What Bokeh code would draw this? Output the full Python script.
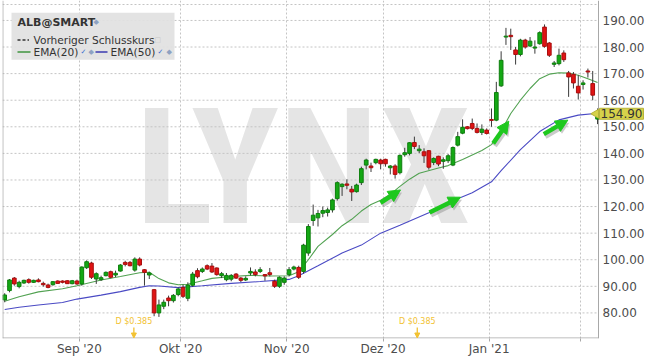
import math
from bokeh.plotting import figure
from bokeh.models import (ColumnDataSource, Range1d, FixedTicker, Label, Arrow,
                          NormalHead, Span, BoxAnnotation)
from bokeh.core.properties import value
from bokeh.embed import file_html
from bokeh.resources import INLINE

# ---------------- data ----------------
opens = [84.9, 88.4, 93.1, 89.9, 91.25, 92.5, 91.5, 92.4, 91.1, 90.5,
         90.6, 92.0, 92.0, 92.1, 91.0, 92.0, 90.9, 97.0, 98.75, 92.75,
         92.5, 94.0, 95.5, 94.25, 95.75, 99.0, 99.0, 96.1, 100.25, 96.25,
         94.25, 88.75, 80.0, 82.5, 85.6, 84.6, 86.9, 89.6, 85.5, 90.4,
         95.9, 95.6, 97.75, 97.6, 96.9, 94.0, 92.5, 92.7, 94.6, 93.1,
         92.4, 95.0, 95.4, 95.6, 94.4, 95.1, 91.9, 90.0, 91.5, 94.4,
         96.5, 97.1, 95.6, 102.5, 114.75, 115.75, 117.5, 117.75, 118.75, 123.0,
         127.5, 128.5, 126.5, 125.6, 129.0, 135.6, 135.25, 136.5, 137.5, 137.75,
         134.6, 135.25, 132.75, 139.5, 140.0, 144.1, 141.0, 140.6, 141.0, 136.6,
         138.9, 137.0, 137.25, 135.6, 143.1, 147.6, 150.0, 151.25, 149.4, 147.9,
         148.75, 152.75, 152.5, 165.4, 183.75, 184.4, 178.9, 177.2, 182.6, 180.4,
         179.6, 181.25, 187.5, 181.5, 173.5, 173.75, 177.75, 170.25, 169.75, 165.25,
         165.9, 171.0, 166.25, 152.9]
highs = [87.4, 92.75, 93.5, 92.1, 92.5, 93.0, 92.5, 93.0, 91.75, 91.0,
         92.0, 92.25, 92.25, 92.25, 92.4, 92.5, 97.5, 99.75, 99.25, 95.25,
         94.0, 95.6, 95.9, 95.9, 98.4, 99.6, 99.5, 100.9, 100.9, 96.5,
         95.5, 89.0, 85.0, 85.0, 86.5, 87.1, 89.6, 90.6, 91.5, 95.4,
         96.8, 97.1, 98.25, 98.75, 97.1, 95.4, 95.0, 94.6, 95.0, 93.5,
         93.75, 97.1, 96.4, 97.2, 94.6, 96.9, 92.5, 93.75, 93.75, 97.25,
         97.75, 97.75, 106.0, 113.4, 120.75, 118.75, 120.0, 119.6, 123.0, 129.5,
         128.75, 130.25, 127.75, 128.6, 135.0, 138.0, 136.5, 138.0, 138.0, 138.0,
         135.6, 135.9, 139.6, 142.1, 144.25, 146.3, 143.1, 141.9, 141.25, 138.5,
         139.1, 138.5, 139.75, 142.6, 148.1, 152.8, 150.3, 153.1, 151.25, 150.9,
         149.4, 156.9, 166.9, 178.4, 187.2, 186.9, 180.0, 183.1, 183.1, 183.75,
         182.5, 185.9, 188.5, 181.9, 174.75, 179.4, 178.75, 171.0, 170.6, 169.4,
         167.5, 171.9, 171.0, 156.9]
lows = [84.0, 87.75, 90.25, 89.25, 90.9, 91.0, 91.25, 91.5, 89.9, 89.25,
        90.25, 91.0, 91.1, 90.9, 90.75, 90.5, 90.25, 96.5, 92.75, 90.9,
        92.0, 93.75, 93.0, 93.5, 95.5, 97.5, 97.5, 95.5, 97.5, 90.25,
        92.75, 78.75, 78.5, 81.4, 82.5, 83.9, 86.25, 85.6, 84.4, 89.8,
        93.0, 95.0, 96.1, 95.0, 94.0, 93.1, 91.9, 91.9, 92.75, 91.6,
        92.0, 94.1, 93.75, 95.0, 92.1, 93.75, 89.4, 89.4, 90.6, 93.75,
        96.0, 92.75, 94.75, 101.5, 112.75, 112.5, 116.0, 116.25, 117.75, 122.25,
        124.0, 126.5, 122.1, 125.25, 128.1, 134.0, 133.0, 135.9, 134.0, 135.0,
        132.1, 130.5, 132.1, 138.75, 139.25, 141.6, 140.1, 136.4, 133.9, 135.6,
        135.2, 134.2, 136.4, 135.2, 142.6, 147.2, 149.0, 148.75, 147.5, 146.9,
        147.1, 150.0, 152.1, 165.0, 180.8, 178.9, 173.4, 176.5, 179.4, 180.0,
        177.5, 180.9, 179.75, 176.25, 172.5, 173.1, 174.4, 161.25, 164.4, 160.25,
        164.0, 168.5, 160.0, 151.0]
closes = [86.75, 92.4, 90.9, 91.5, 92.25, 91.5, 92.25, 91.75, 90.6, 89.6,
          91.75, 91.1, 91.5, 91.0, 92.1, 90.9, 97.25, 99.25, 93.4, 94.75,
          93.25, 95.25, 93.4, 94.9, 98.0, 98.25, 97.75, 100.25, 98.0, 95.25,
          95.0, 80.0, 83.0, 84.0, 84.6, 86.6, 89.0, 86.25, 90.5, 94.6,
          93.6, 96.5, 96.5, 95.4, 94.4, 94.75, 94.1, 94.1, 93.1, 92.25,
          93.0, 95.6, 94.4, 96.25, 93.9, 94.4, 90.0, 93.4, 93.1, 96.25,
          97.25, 93.4, 105.5, 112.5, 116.75, 117.4, 118.5, 118.75, 122.5, 129.0,
          128.4, 128.0, 125.5, 128.1, 134.25, 137.5, 134.6, 137.75, 136.1, 136.1,
          135.25, 132.1, 139.25, 140.25, 144.0, 142.6, 141.6, 139.1, 134.8, 138.1,
          136.0, 137.6, 139.1, 142.2, 146.3, 149.8, 149.3, 149.4, 147.9, 149.1,
          147.5, 152.4, 162.9, 175.0, 184.1, 183.9, 177.2, 182.6, 180.0, 182.2,
          180.0, 185.4, 180.25, 176.9, 174.0, 176.9, 175.25, 168.75, 166.5, 162.75,
          166.5, 170.6, 161.9, 154.9]

ema20_day = [0, 3, 7, 12, 15, 20, 24, 28, 30, 32, 34, 36, 38, 41, 43, 47, 51,
             55, 59, 61, 63, 65, 68, 70, 72, 74, 76, 78, 80, 82, 84, 86, 90,
             92, 95, 99, 101, 103, 105, 107, 109, 111, 113, 115, 117, 119, 121, 123]
ema20_val = [84.4, 86.1, 87.9, 89.1, 90.2, 92.4, 93.7, 95.1, 95.3, 92.9, 91.3,
             90.6, 90.8, 92.1, 93.0, 93.7, 94.1, 93.9, 94.0, 95.5, 100.0, 105.0,
             109.5, 112.8, 115.2, 118.3, 120.8, 122.4, 124.6, 127.6, 130.3, 132.5,
             134.5, 135.4, 137.7, 141.1, 143.3, 148.3, 155.0, 160.0, 164.4, 168.1,
             169.8, 170.3, 170.2, 169.4, 168.1, 166.7]
ema50_day = [0, 3, 7, 12, 15, 20, 24, 28, 30, 32, 36, 41, 47, 53, 59, 61, 65,
             70, 74, 78, 82, 88, 92, 97, 101, 103, 107, 111, 115, 119, 123]
ema50_val = [81.3, 82.1, 83.0, 83.9, 85.2, 86.7, 88.0, 89.6, 90.2, 90.1, 89.5,
             90.2, 91.1, 91.8, 92.6, 94.0, 97.7, 102.5, 105.5, 110.0, 113.0,
             117.7, 121.4, 125.2, 129.3, 133.5, 141.4, 148.2, 152.6, 154.4, 155.1]

month_labels = ["Sep '20", "Okt '20", "Nov '20", "Dez '20", "Jan '21", ""]
month_first_day = [16, 37, 59, 79, 101, 120]
price_ticks = [80, 90, 100, 110, 120, 130, 140, 150, 160, 170, 180, 190]
dividend_day = [26.8, 85.6]
dividend_text = ["D $0.385", "D $0.385"]
last_price = closes[-1]

# ---------------- geometry helpers (for annotations) ----------------
PXU = 596 / 123.656          # pixels per trading day
X0 = -0.456                  # left edge of the frame (px 2)
XA = 123.2                   # price axis position (px 598)
X1 = X0 + 643 / PXU          # right edge of canvas (px 645)
Y0, Y1 = 70.375, 197.5       # frame bottom (px 339) / top (px 0)
FB = 339


def dx(px):
    return X0 + (px - 2) / PXU


def dy(py):
    return Y1 - py * (Y1 - Y0) / FB


days = list(range(len(closes)))
up = [c >= o for o, c in zip(opens, closes)]
src = ColumnDataSource(dict(
    x=days, high=highs, low=lows,
    top=[max(o, c) for o, c in zip(opens, closes)],
    bottom=[min(o, c) for o, c in zip(opens, closes)],
    fill=["#14a814" if u else "#e01414" for u in up],
    edge=["#0e7f0e" if u else "#a80e0e" for u in up],
))

p = figure(width=645, height=358, x_range=Range1d(X0, X1), y_range=Range1d(Y0, Y1),
           y_axis_location=None, toolbar_location=None, output_backend="svg",
           min_border_left=2, min_border_right=0, min_border_top=0, min_border_bottom=19,
           background_fill_color="white", border_fill_color="white",
           outline_line_color=None)

# x axis (month boundaries)
grid_pos = [d - 0.5 for d in month_first_day]
p.xaxis.ticker = FixedTicker(ticks=grid_pos)
p.xaxis.major_label_overrides = {g: lab for g, lab in zip(grid_pos, month_labels)}
p.xaxis.major_label_text_font = "DejaVu Sans"
p.xaxis.major_label_text_font_size = "12px"
p.xaxis.major_label_text_color = "#4d4d4d"
p.xaxis.axis_line_color = None
p.xaxis.major_tick_line_color = "#a8a8a8"
p.xaxis.minor_tick_line_color = None
p.xaxis.major_tick_out = 3
p.xaxis.major_tick_in = 0
p.xaxis.major_label_standoff = 0

p.xgrid.ticker = FixedTicker(ticks=grid_pos)
p.xgrid.grid_line_color = "#c4c4c4"
p.xgrid.grid_line_dash = "2 2"
p.ygrid.grid_line_color = None

# watermark (under everything)
p.text(x=[dx(302.5)], y=[dy(168)], text=["LYNX"],
       text_font=value("Roboto Condensed, Roboto"),
       text_font_style="bold", text_font_size="162px", text_color="#e5e5e5",
       text_align="center", text_baseline="alphabetic", level="image")

# price grid lines, stopping at the price axis
n = len(price_ticks)
p.segment(x0=[X0] * n, y0=price_ticks, x1=[XA] * n, y1=price_ticks,
          line_color="#c4c4c4", line_dash="2 2", line_width=1)
p.segment(x0=[X0], y0=[dy(4)], x1=[XA], y1=[dy(4)],
          line_color="#c4c4c4", line_dash="2 2", line_width=1)

# frame lines: left border, bottom axis line, right price axis line
p.add_layout(Span(location=X0 + 0.08, dimension="height", line_color="#a8a8a8", line_width=1))
p.segment(x0=[X0], y0=[dy(338.5)], x1=[XA], y1=[dy(338.5)], line_color="#a8a8a8", line_width=1)
p.segment(x0=[XA], y0=[Y0], x1=[XA], y1=[Y1], line_color="#a8a8a8", line_width=1)

# price axis labels
p.text(x=[dx(602)] * n, y=price_ticks, text=["%.2f" % t for t in price_ticks],
       text_font=value("DejaVu Sans"), text_font_size="12px", text_color="#4d4d4d",
       text_align="left", text_baseline="middle")

# EMA lines
p.line(ema20_day, ema20_val, line_color="#52a252", line_width=1.1)
p.line(ema50_day, ema50_val, line_color="#4a4ac4", line_width=1.1)

# candles
p.segment(x0="x", y0="low", x1="x", y1="high", source=src, line_color="#3a3a3a", line_width=1)
p.vbar(x="x", width=0.76, top="top", bottom="bottom", fill_color="fill",
       line_color="edge", line_width=1, source=src)

# green trend arrows (shadow + arrow)
arrows_px = [((380, 203), (400, 190)), ((429, 212.7), (460, 197.3)),
             ((492.7, 143.3), (508.3, 121)), ((543.3, 134), (567.3, 120))]
for (ax0, ay0), (ax1, ay1) in arrows_px:
    p.add_layout(Arrow(x_start=dx(ax0 + 1.5), y_start=dy(ay0 + 2.5),
                       x_end=dx(ax1 + 1.5), y_end=dy(ay1 + 2.5),
                       line_color="#8a8a8a", line_alpha=0.45, line_width=5,
                       end=NormalHead(size=12, fill_color="#8a8a8a", fill_alpha=0.45,
                                      line_color=None)))
    p.add_layout(Arrow(x_start=dx(ax0), y_start=dy(ay0), x_end=dx(ax1), y_end=dy(ay1),
                       line_color="#1ec81e", line_width=4.5,
                       end=NormalHead(size=12, fill_color="#1ec81e", line_color="#1ec81e",
                                      line_width=1)))

# dividend markers
for d, t in zip(dividend_day, dividend_text):
    p.add_layout(Label(x=d, y=dy(322), text=t, text_font="DejaVu Sans",
                       text_font_size="8px", text_color="#f2c232",
                       text_align="center", text_baseline="middle"))
    p.add_layout(Arrow(x_start=d, y_start=dy(328), x_end=d, y_end=dy(338.5),
                       line_color="#f2c232", line_width=1.3,
                       end=NormalHead(size=5, fill_color="#f2c232", line_color="#f2c232")))

# legend box
p.add_layout(BoxAnnotation(left=dx(11), right=dx(174), top=dy(12.3), bottom=dy(59.3),
                           fill_color="#e1e1e1", fill_alpha=0.92, line_color=None))
lt = dict(text_font="DejaVu Sans", text_font_size="10.6px", text_color="#333333",
          text_baseline="middle")
p.add_layout(Label(x=dx(17), y=dy(22), text="ALB@SMART", text_font="DejaVu Sans",
                   text_font_style="bold", text_font_size="11px", text_color="#333333",
                   text_baseline="middle"))
p.add_layout(Label(x=dx(93), y=dy(22), text="\u25c6", text_font="DejaVu Sans",
                   text_font_size="7px", text_color="#8ea2c2", text_baseline="middle"))
p.add_layout(Arrow(x_start=dx(17), y_start=dy(39.5), x_end=dx(28.5), y_end=dy(39.5),
                   line_color="#333333", line_width=1.5, line_dash="3 2", end=None))
p.add_layout(Label(x=dx(33), y=dy(39.5), text="Vorheriger Schlusskurs", **lt))
p.add_layout(Label(x=dx(154), y=dy(39.5), text="\u25a1", text_font="DejaVu Sans",
                   text_font_size="7px", text_color="#c8c8c8", text_baseline="middle"))
p.add_layout(Arrow(x_start=dx(17), y_start=dy(51.7), x_end=dx(30), y_end=dy(51.7),
                   line_color="#3f953f", line_width=1.6, end=None))
p.add_layout(Label(x=dx(33), y=dy(51.7), text="EMA(20)", **lt))
p.add_layout(Arrow(x_start=dx(95), y_start=dy(51.7), x_end=dx(107), y_end=dy(51.7),
                   line_color="#3a3ab0", line_width=1.6, end=None))
p.add_layout(Label(x=dx(110), y=dy(51.7), text="EMA(50)", **lt))
for cx in (80, 157):
    p.add_layout(Label(x=dx(cx), y=dy(51.7), text="\u2713", text_font="DejaVu Sans",
                       text_font_size="7px", text_color="#3a6fd0", text_baseline="middle"))
for cx in (88, 166):
    p.add_layout(Label(x=dx(cx), y=dy(51.7), text="\u25c6", text_font="DejaVu Sans",
                       text_font_size="7px", text_color="#8ea2c2", text_baseline="middle"))

# last price tag on the price axis
p.scatter(x=[dx(595.5)], y=[last_price], marker="triangle", angle=math.pi / 2, size=9,
          fill_color="#d6d24a", line_color="#b8b43a")
p.add_layout(Label(x=dx(599), y=last_price, text="%.2f" % last_price,
                   text_font="DejaVu Sans", text_font_size="12px", text_color="#333333",
                   text_baseline="middle", text_align="left",
                   background_fill_color="#d6d24a", border_line_color="#b8b43a",
                   padding=1))

open("out.html", "w").write(file_html(p, INLINE))
